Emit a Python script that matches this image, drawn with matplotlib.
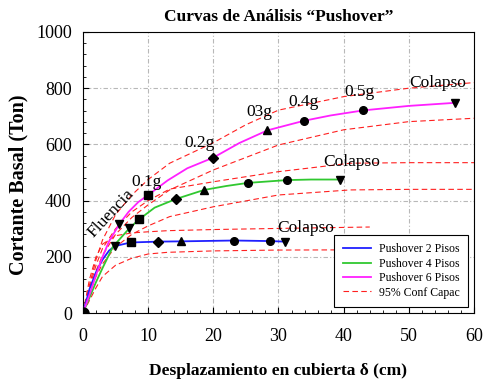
import matplotlib
matplotlib.use("Agg")
import matplotlib.pyplot as plt
from matplotlib.ticker import MultipleLocator
from matplotlib.lines import Line2D

plt.rcParams['font.family'] = ['Liberation Serif', 'DejaVu Serif']

# Pushover curves: roof displacement (cm) vs base shear (Ton)
x_2p = [0, 1, 2, 3, 4, 4.9, 7.3, 11.5, 15.1, 23.2, 28.7, 31.0]
y_2p = [0, 85, 145, 190, 222, 238, 251, 254, 255, 258, 256, 254]
mk_2p = {0: 'o', 5: 'v', 6: 's', 7: 'D', 8: '^', 9: 'o', 10: 'o', 11: 'v'}

x_4p = [0, 1, 2, 3, 4.6, 7.1, 8.6, 11, 14.3, 18.6, 22, 25.3, 31.3, 35, 39.5]
y_4p = [0, 55, 110, 160, 236, 301, 333, 375, 406, 438, 452, 463, 473, 475, 475]
mk_4p = {5: 'v', 6: 's', 8: 'D', 9: '^', 11: 'o', 12: 'o', 14: 'v'}

x_6p = [0, 1, 2, 3, 4, 5.6, 7, 8.5, 10, 13, 16, 20, 24, 28.3, 33.9, 38, 43.0, 50, 57.1]
y_6p = [0, 65, 135, 200, 255, 317, 360, 395, 420, 472, 515, 553, 605, 650, 684, 703, 721, 737, 748]
mk_6p = {5: 'v', 8: 's', 11: 'D', 13: '^', 14: 'o', 16: 'o', 18: 'v'}

# 95% confidence bands of capacity
x_up6 = [0, 1, 2, 3, 5, 7.5, 10, 13.3, 20, 25, 30, 40, 50, 60]
y_up6 = [0, 100, 190, 260, 350, 420, 475, 533, 606, 670, 722, 770, 800, 820]
x_lo6 = [0, 1, 2, 3, 5, 7.5, 10, 13.3, 20, 30, 40, 50, 60]
y_lo6 = [0, 80, 150, 205, 280, 340, 385, 438, 509, 598, 652, 681, 693]
x_up4 = [0, 1, 2, 3, 5, 7.5, 10, 13.3, 20, 30, 41, 50, 60]
y_up4 = [0, 90, 170, 230, 300, 360, 400, 441, 467, 503, 533, 535, 535]
x_lo4 = [0, 1, 2, 3, 5, 7.5, 10, 13.3, 20, 30, 41, 50, 60]
y_lo4 = [0, 70, 130, 175, 235, 280, 310, 343, 378, 420, 438, 440, 440]
x_up2 = [0, 1, 2, 3, 5, 7.5, 10, 13, 20, 30, 44]
y_up2 = [0, 120, 200, 245, 275, 285, 289, 293, 297, 301, 306]
x_lo2 = [0, 1, 2, 3, 5, 7.5, 10, 13, 20, 30, 45]
y_lo2 = [0, 45, 90, 130, 170, 195, 210, 216, 221, 224, 225]

# Annotations along the curves
notes = [("Fluencia", 4.3, 356, 47), ("0.1g", 9.8, 466, 0), ("0.2g", 17.9, 604, 0),
         ("03g", 27.1, 716, 0), ("0.4g", 33.9, 752, 0), ("0.5g", 42.5, 786, 0),
         ("Colapso", 54.5, 820, 0), ("Colapso", 41.3, 538, 0), ("Colapso", 34.2, 304, 0)]

fig = plt.figure(figsize=(4.83, 3.80), dpi=100)
ax = fig.add_axes([0.1718, 0.1763, 0.8096, 0.7395])

band_kw = dict(color='#ff2020', lw=0.8, dashes=(5, 3), zorder=2)
for bx, by in [(x_up6, y_up6), (x_lo6, y_lo6), (x_up4, y_up4),
               (x_lo4, y_lo4), (x_up2, y_up2), (x_lo2, y_lo2)]:
    ax.plot(bx, by, **band_kw)

series = [(x_2p, y_2p, mk_2p, '#2020ff'), (x_4p, y_4p, mk_4p, '#30c830'),
          (x_6p, y_6p, mk_6p, '#ff20ff')]
for sx, sy, mk, col in series:
    ax.plot(sx, sy, color=col, lw=1.3, zorder=3)
    for i, m in mk.items():
        ms = 8 if (sx[i] == 0) else (5.5 if m != 'D' else 5)
        ax.plot(sx[i], sy[i], marker=m, color='black', ms=ms, ls='none', zorder=4)

for txt, tx, ty, rot in notes:
    ax.text(tx, ty, txt, fontsize=12.5, ha='center', va='center', rotation=rot, zorder=5)

ax.set_xlim(0, 60)
ax.set_ylim(0, 1000)
ax.xaxis.set_major_locator(MultipleLocator(10))
ax.xaxis.set_minor_locator(MultipleLocator(2))
ax.yaxis.set_major_locator(MultipleLocator(200))
ax.yaxis.set_minor_locator(MultipleLocator(40))
ax.tick_params(which='both', direction='in', labelsize=13)
ax.tick_params(which='major', length=4)
ax.tick_params(which='minor', length=2.5)
ax.tick_params(axis='x', which='major', pad=11)
ax.tick_params(axis='y', which='major', pad=8)
ax.grid(True, which='major', color='#b8b8b8', lw=0.8, ls=(0, (4, 2, 1, 2)))
ax.set_axisbelow(True)

ax.set_title("Curvas de Análisis “Pushover”", fontsize=12.5, fontweight='bold', pad=8)
ax.set_xlabel("Desplazamiento en cubierta δ (cm)", fontsize=12.5, fontweight='bold', labelpad=13)
ax.set_ylabel("Cortante Basal (Ton)", fontsize=14.5, fontweight='bold')
ax.yaxis.set_label_coords(-0.14, 0.455)

handles = [Line2D([], [], color='#2020ff', lw=1.3),
           Line2D([], [], color='#30c830', lw=1.3),
           Line2D([], [], color='#ff20ff', lw=1.3),
           Line2D([], [], color='#ff2020', lw=0.8, dashes=(5, 3))]
labels = ["Pushover 2 Pisos", "Pushover 4 Pisos", "Pushover 6 Pisos", "95% Conf Capac"]
leg = ax.legend(handles, labels, loc='lower right', bbox_to_anchor=(0.985, 0.022),
                borderaxespad=0, fontsize=8.5, fancybox=False, framealpha=1,
                edgecolor='black', handlelength=2.4, handletextpad=0.7,
                labelspacing=0.2, borderpad=0.7)
leg.get_frame().set_linewidth(0.8)
leg.set_zorder(6)

fig.savefig("out.png", dpi=100)
